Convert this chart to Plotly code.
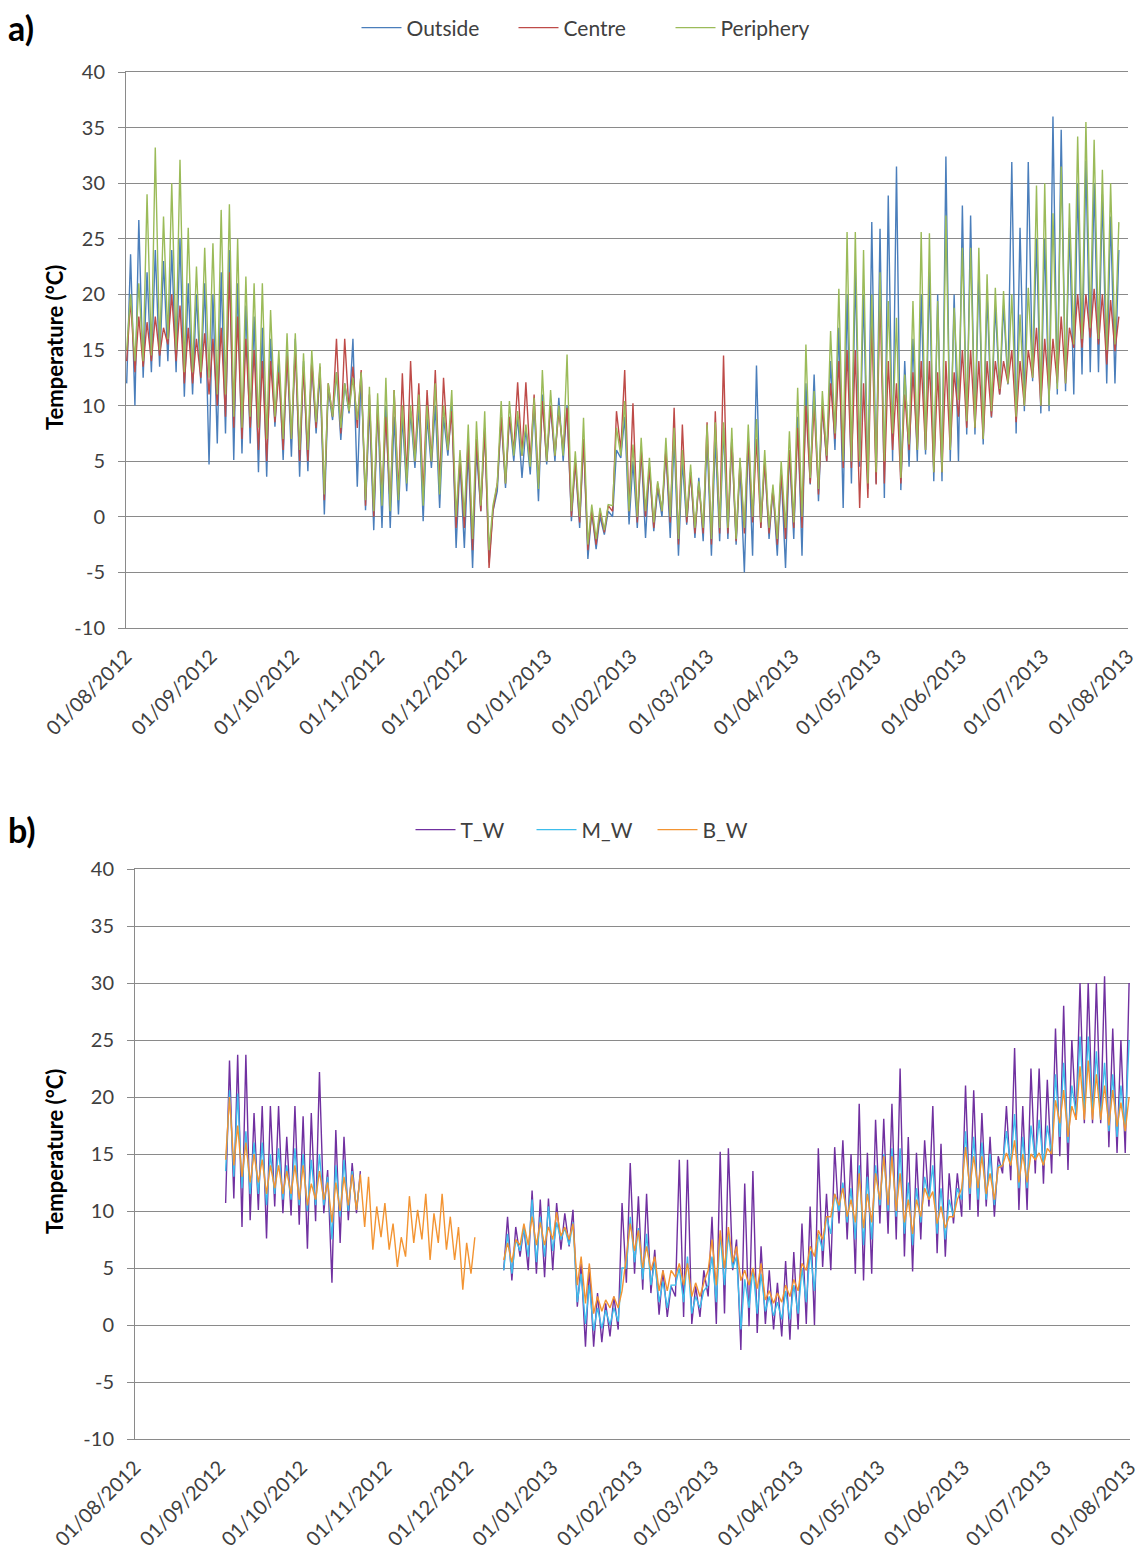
import pandas as pd
import plotly.graph_objects as go

# ---------------- data (3-day blocks from 01/08/2012: daily low / high within each block) -------------
BLOCK_START = "2012-08-01"
N_BLOCKS = 122
month_ticks = pd.date_range("2012-08-01", "2013-08-01", freq="MS")
y_ticks = [-10, -5, 0, 5, 10, 15, 20, 25, 30, 35, 40]

# Panel a)
outside_hi = [
    23.6, 26.7, 22, 24, 23, 24, 25, 21, 20, 21,
    20, 22, 24, 21, 19, 18, 17, 16, 14, 15,
    16, 14, 14, 13, 11.5, 13, 12, 16, 13, 10,
    10, 10, 9, 9, 9.5, 10, 9, 10, 9, 10,
    5, 6, 6, 8, 0.5, 9, 9, 9, 8, 10,
    11, 10, 10.7, 10, 5, 7, 0.5, 0, 0.5, 6,
    9, 5, 6, 4.5, 2.5, 6, 7, 5, 4, 3.5,
    7, 7, 8, 7, 4.5, 7, 13.6, 5, 2.5, 4,
    6, 9, 12, 12.8, 10, 14, 17, 20, 22, 20,
    26.5, 25.9, 28.9, 31.5, 14, 16, 20, 22, 20, 32.4,
    20, 28, 27.1, 22, 20, 19, 19, 31.9, 26, 31.9,
    25, 25, 36, 34.8, 26, 30, 32, 30, 29, 27,
    24, None]
outside_lo = [
    12, 10, 12.5, 13, 13.5, 14, 13, 10.8, 11, 12,
    4.7, 6.6, 7.5, 5.1, 5.7, 6.6, 4, 3.6, 8.1, 5.1,
    5.4, 3.6, 4.1, 7.5, 0.2, 8.7, 6.9, 9.3, 2.7, 0.6,
    -1.2, -1, -1, 0.2, 2.3, 4.4, -0.4, 4.4, 0.8, 5.5,
    -2.8, -2.8, -4.6, 0.5, -4.1, 2.3, 2.6, 5, 3.5, 3.8,
    1.4, 4.7, 5, 5, -0.4, -1, -3.8, -2.9, -1.6, 0,
    5.3, -0.7, -1, -1.9, -1.3, 0, -1.9, -3.5, -0.7, -1.9,
    -2.2, -3.5, -2.2, -2, -2.5, -5, -3.5, -1, -2, -3.5,
    -4.6, -2, -3.5, 2.9, 1.4, 5, 6, 0.8, 3, 4.5,
    2.5, 3, 1.7, 5, 2.4, 4.5, 5, 5.6, 3.2, 3.2,
    5, 5, 7.4, 7.4, 6.5, 8.9, 11, 11.9, 7.5, 9.5,
    12.2, 9.3, 9.5, 11, 11.3, 11, 12.8, 13, 13, 12,
    12, None]
centre_hi = [
    19.5, 18, 17.5, 18, 17, 20, 19, 17, 16, 16.5,
    16, 17, 22, 18, 16, 15, 14, 14, 13, 14.5,
    15, 13.5, 14, 13.5, 12, 16, 16, 13.5, 13.2, 11,
    10, 9, 11.4, 12.9, 14, 12, 11.4, 13.2, 12.5, 9.5,
    5.3, 7, 7, 8, 0.5, 9, 9, 12.1, 12.1, 11,
    10.4, 10, 9.5, 9.8, 5, 7, 0.5, 0.5, 1, 9.5,
    13.2, 10.2, 6, 4.5, 3, 6, 9.8, 8.3, 4, 3,
    8.5, 9.5, 14.5, 7, 5, 7, 7, 5, 2.5, 4,
    6, 8, 10, 10, 10, 12, 14, 15, 15, 12,
    17.6, 20, 14, 12, 11, 13, 14, 14, 13, 14,
    13, 15, 15, 14, 14, 14, 14, 15, 14, 15,
    17, 16, 16, 18, 17, 20, 20, 20.5, 20, 19.5,
    18, None]
centre_lo = [
    14, 13, 13.5, 14, 14.5, 15.5, 14, 12, 12, 12.5,
    11, 10, 9, 8, 7, 8, 6, 5, 8.5, 6,
    7, 5, 5, 8, 1.5, 9, 7.5, 9.5, 8, 1,
    0, 2, 1, 2, 3.5, 5, 2, 5, 3, 6,
    -1, -1, -3, 0.5, -4.6, 3, 3, 6, 5.5, 5,
    3, 5, 5.5, 6, 0, -0.5, -3, -2.5, -1.4, 0.5,
    6, 0.5, -0.5, 0, -1, 0.5, -0.5, -2.5, -0.5, -1.5,
    -1.5, -2.5, -1.5, -1.5, -2.2, -1.5, -0.5, -1, -1.5, -2.5,
    -2, -1, -1, 3, 2, 5, 7, 4.4, 4.4, 0.8,
    1.7, 2.9, 3, 6, 3, 6, 6, 6, 4, 4,
    6, 9, 8, 8, 7, 9, 11, 12, 8.5, 10,
    12.5, 10, 11, 12, 12, 15.2, 15.2, 16.1, 15.5, 13.7,
    14.9, None]
periphery_hi = [
    20, 21, 29, 33.2, 27, 30, 32.1, 26, 22.5, 24.2,
    24.6, 27.6, 28.1, 25, 21.6, 21, 21, 18.6, 15, 16.5,
    16.5, 14.7, 15, 13.8, 12, 13, 12, 12.5, 13, 11.7,
    11.1, 12.5, 11.4, 10, 10, 11, 10, 12, 10, 11.4,
    6, 8.3, 8.6, 9.5, 1, 10.4, 10.4, 9.5, 8.3, 10.7,
    13.2, 11.4, 10, 14.6, 5.9, 8.9, 1.1, 0.8, 1.1, 8,
    10.4, 6.5, 7.1, 5.3, 3.2, 7.1, 8, 6, 4.7, 3.2,
    8.3, 8.5, 8.5, 8, 5.3, 8.3, 8.8, 6, 2.9, 5,
    7.7, 11.6, 15.5, 11.3, 11.3, 16.7, 20.5, 25.6, 25.6, 24,
    20, 22, 19.4, 17.9, 12.8, 19.4, 25.6, 25.5, 19.4, 27.1,
    18.8, 24.2, 24.2, 24.2, 21.8, 20.6, 20.3, 20, 18.2, 20.6,
    29.8, 30, 27.3, 31.5, 28.2, 34.2, 35.5, 33.9, 31.2, 30,
    26.5, None]
periphery_lo = [
    15, 14, 14, 14.5, 15, 16, 15, 13, 13, 13,
    12.5, 11, 11, 9, 8, 9, 8, 7, 9, 7,
    7, 6, 6, 8.5, 2, 9, 8, 9.5, 8.7, 1.5,
    0.5, 1, 0.5, 1.5, 3, 5, 1, 5, 2, 6,
    0, 0, -2, 1, -3, 3, 3, 5.5, 5.5, 4.5,
    2.5, 5, 5.5, 5.5, 0.5, 0, -2.5, -2, -1.2, 1,
    5.5, 0.5, 0, 0.5, -0.5, 0.5, 0, -2, 0, -1,
    -1, -2, -1, -1, -2, -1, 0, -0.5, -1, -2,
    -1, -0.5, 0, 3.5, 2.5, 5.5, 7.5, 5, 5, 5,
    3, 4, 5, 7.5, 3.5, 6.5, 6, 6, 4, 4,
    6, 10.5, 8.6, 8, 7, 9.5, 11.5, 12, 9, 10,
    12.5, 10, 10, 11.5, 12, 15.5, 16, 17, 16, 15,
    15.5, None]

# Panel b)  (None = no record)
tw_hi = [None] * 11 + [
    23.2, 23.7, 23.7, 18.6, 19.2, 19.2, 19.2, 16.5, 19.2, 18.3,
    18.6, 22.2, 13.6, 17.1, 16.5, 14.2, 13.5] + [None] * 17 + [
    9.5, 8.6, 8.6, 11.8, 11, 11.1, 10.7, 9.8, 10.1, 5.4,
    5.1, 2.8, 1.9, 2.5, 10.7, 14.2, 11.3, 11.5, 6.6, 4.8,
    3.4, 14.5, 14.5, 3.4, 4.8, 9.5, 15.2, 15.5, 7.5, 12.4,
    13.5, 6.9, 4.8, 3.7, 5.6, 6.4, 8.9, 10.4, 15.5, 11.5,
    15.6, 16.2, 15, 19.4, 15.1, 18, 18.1, 19.4, 22.5, 16.5,
    15.1, 16.2, 19.2, 15.9, 13.3, 13.3, 21, 20.6, 18.6, 16.5,
    14.8, 19.2, 24.3, 19.2, 22.5, 22.5, 21.5, 26, 28, 25,
    30, 30, 30, 30.6, 26, 25, 30]
tw_lo = [None] * 11 + [
    10.7, 11.1, 8.6, 9.2, 10.1, 7.6, 10.4, 9.8, 9.6, 8.8,
    6.7, 9.1, 9.8, 3.7, 7.2, 9.2, 9.8] + [None] * 17 + [
    4.8, 3.9, 6, 4.8, 4.5, 4.2, 4.8, 6.6, 6.9, 1.6,
    -1.9, -1.9, -1.5, -1, -0.4, 3.7, 4.5, 3.1, 2.8, 0.9,
    0.7, 2.5, 0.7, 0.1, 0.7, 2.5, 0.1, 1, 4.8, -2.2,
    -0.1, -0.7, 0.1, -0.4, -1, -1.3, -0.4, 0.1, 0, 5.1,
    4.8, 8.9, 7.5, 4.5, 3.9, 4.5, 8.9, 8, 7.5, 6,
    4.7, 7.5, 10.4, 6.3, 6, 8.9, 9.5, 10.1, 9.5, 10.4,
    9.5, 13.3, 12.7, 10.1, 10.1, 13.3, 12.4, 13.3, 14.8, 13.6,
    18, 17.7, 17.7, 17.7, 15.6, 15.1, 15.1]
mw_hi = [None] * 11 + [
    20.6, 20.3, 17, 16, 16, 15, 15.5, 14, 15.5, 15,
    14.5, 15, 13, 14, 14.5, 13.5, 13] + [None] * 17 + [
    8, 7.5, 8.5, 11, 9.5, 10.4, 9, 8.5, 9, 4.5,
    3.5, 1.5, 1.3, 1.5, 5, 9.5, 8.5, 8, 5.5, 3.8,
    3.5, 5, 6, 2.5, 3, 6, 8, 8, 6, 4,
    5, 4.5, 2.5, 2, 3, 3.5, 5, 6.5, 8, 9.5,
    11.5, 12.5, 12, 14, 13, 14, 15, 15.5, 15.5, 12.5,
    12, 13, 14, 12, 11, 12, 17, 16.5, 16, 15,
    14, 17, 18.5, 16.5, 17.5, 18, 17.5, 22, 23, 21,
    25.3, 25.3, 24, 23, 22, 21, 25]
mw_lo = [None] * 11 + [
    13.5, 13, 12, 11.5, 11.5, 10.5, 11.5, 11, 11, 10.5,
    10, 10.5, 10.5, 7.5, 9.5, 10, 10.2] + [None] * 17 + [
    4.8, 4.5, 6.5, 6, 5.5, 6, 6.5, 7.5, 7, 2,
    0.1, -0.5, -0.3, 0, 0.3, 5, 5.5, 4, 3.5, 2,
    1.5, 3.5, 2, 1, 1.5, 3.5, 2, 3.5, 5, -0.4,
    1.5, 1, 1.2, 0.8, 0.5, 0.5, 1, 2, 3, 6.5,
    8, 10, 9, 7.5, 7, 7.5, 10.5, 10, 9.5, 8,
    7, 9, 11, 8, 7.5, 9.5, 11, 11.5, 11, 11,
    10.5, 14, 14, 12, 12, 14.5, 14, 15, 16.5, 16,
    18.5, 18.5, 18.5, 18, 17, 16.5, 17]
bw_hi = [None] * 11 + [
    20, 17.5, 16, 15, 14.5, 14, 14, 13.5, 14, 14,
    12.4, 13.5, 12.5, 12.5, 13, 13.2, 13.2, 13, 10.4, 10.7,
    8.9, 7.7, 11.3, 10.1, 11.5, 9.8, 11.5, 9.5, 8.6, 7.2, 7.7] + [None] * 3 + [
    7.2, 7.5, 8.9, 9.5, 9, 8.6, 9.9, 8.6, 8.9, 6,
    5.4, 2.5, 2.2, 2.5, 3, 8.9, 8.3, 6.9, 6, 4.8,
    4.8, 5.4, 5.4, 3.7, 3.7, 7.5, 8.3, 8.6, 6.9, 4.8,
    5, 5.4, 3, 2.8, 3.5, 4, 5.4, 6.9, 8.3, 9.5,
    11.5, 12, 11, 13.3, 11.5, 13.3, 14.8, 14.8, 13.3, 11,
    11, 12, 11.7, 10.4, 9.5, 11, 15.6, 14.8, 14.8, 13.3,
    13.8, 15.1, 16.2, 15, 15, 15.1, 15.5, 19.7, 20.6, 19.2,
    22.7, 23.2, 22, 21, 20.6, 19.5, 20]
bw_lo = [None] * 11 + [
    14.5, 14, 13, 12.5, 12.5, 11.5, 12, 11.5, 11.5, 11,
    10.5, 11, 11, 9, 10, 10.5, 10.1, 8.6, 6.6, 7.7,
    6.6, 5.1, 6, 7.2, 7.5, 5.7, 7.2, 6.6, 5.7, 3.1, 4.5] + [None] * 3 + [
    5.7, 5.5, 7, 7, 7, 7, 7.5, 7.8, 7.5, 3.5,
    1.9, 1, 1.2, 1.5, 1.5, 6, 6.5, 5, 4.8, 3,
    3, 4.2, 3.5, 2.5, 2.5, 4.8, 3.5, 5, 5.5, 3.9,
    3.5, 3.2, 2.2, 1.9, 2, 2.5, 3, 4.8, 6, 7.5,
    9.5, 10.5, 9.5, 9, 8.5, 9, 11, 10.5, 10, 9,
    8, 9.5, 11, 8.9, 8.5, 9.5, 12, 12, 12, 11.5,
    11, 14, 14, 12.5, 12.5, 14.5, 14, 15, 17.7, 16.5,
    18, 18, 18, 18, 17.5, 17.4, 17]

for arr in (outside_hi, outside_lo, centre_hi, centre_lo, periphery_hi, periphery_lo,
            tw_hi, tw_lo, mw_hi, mw_lo, bw_hi, bw_lo):
    assert len(arr) == N_BLOCKS, len(arr)

# ---------------- figure ----------------
W, H = 1144, 1557
GRID = "#8a8a8a"
TXT = "#404040"
FONT = "Lato, 'Open Sans', sans-serif"
YR = [y_ticks[0], y_ticks[-1]]

starts = pd.date_range(BLOCK_START, periods=N_BLOCKS, freq="3D")
LOW_T = pd.Timedelta(hours=6)
HIGH_T = pd.Timedelta(hours=40)


def zigzag(hi, lo):
    xs, ys = [], []
    for s, h, l in zip(starts, hi, lo):
        if h is None or l is None:
            xs.append(s)
            ys.append(None)
        else:
            xs += [s + LOW_T, s + HIGH_T]
            ys += [l, h]
    return xs, ys


dom_a_x = [126 / W, 1128 / W]
dom_a_y = [1 - 628 / H, 1 - 72 / H]
dom_b_x = [135 / W, 1130 / W]
dom_b_y = [1 - 1439 / H, 1 - 869 / H]


def zero_pos(dom):
    return dom[0] + (0 - YR[0]) / (YR[1] - YR[0]) * (dom[1] - dom[0])


fig = go.Figure()
panel_a = [("Outside", "#4A7EBB", outside_hi, outside_lo),
           ("Centre", "#BE4B48", centre_hi, centre_lo),
           ("Periphery", "#9BBB59", periphery_hi, periphery_lo)]
panel_b = [("T_W", "#7030A0", tw_hi, tw_lo),
           ("M_W", "#3DBDEB", mw_hi, mw_lo),
           ("B_W", "#F39432", bw_hi, bw_lo)]

for name, col, hi, lo in panel_a:
    xs, ys = zigzag(hi, lo)
    fig.add_trace(go.Scatter(x=xs, y=ys, mode="lines", name=name,
                             line=dict(color=col, width=1.4),
                             xaxis="x", yaxis="y", legend="legend"))
for name, col, hi, lo in panel_b:
    xs, ys = zigzag(hi, lo)
    fig.add_trace(go.Scatter(x=xs, y=ys, mode="lines", name=name,
                             line=dict(color=col, width=1.4),
                             xaxis="x2", yaxis="y2", legend="legend2"))

tickfont = dict(size=20, color=TXT, family=FONT)
xtickfont = dict(size=20, color=TXT, family=FONT)
xr = [month_ticks[0], month_ticks[-1]]


def xbottom(dom, anchor):
    return dict(type="date", domain=dom, anchor=anchor, range=xr, tickvals=list(month_ticks),
                tickformat="%d/%m/%Y", tickangle=-45, ticks="", showgrid=False, zeroline=False,
                showline=True, mirror=True, linecolor=GRID, linewidth=1, tickfont=xtickfont,
                ticklabelstandoff=8, automargin=False)


def xzero(over, ydom):
    return dict(type="date", overlaying=over, anchor="free", position=zero_pos(ydom), range=xr,
                tickvals=list(month_ticks), showticklabels=False, ticks="outside", ticklen=9,
                tickcolor=GRID, tickwidth=1, showgrid=False, zeroline=False, showline=False,
                automargin=False)


def yax(dom, anchor):
    return dict(domain=dom, anchor=anchor, range=YR, tickvals=y_ticks,
                ticktext=[str(v) for v in y_ticks], showgrid=True,
                gridcolor=GRID, gridwidth=1, showline=True, linecolor=GRID, linewidth=1,
                ticks="outside", ticklen=7, tickcolor=GRID, tickfont=tickfont, zeroline=False,
                ticklabelstandoff=9, automargin=False)


def legend_at(ypx, entry_w):
    return dict(orientation="h", x=592 / W, xanchor="center", y=1 - ypx / H, yanchor="middle",
                font=dict(size=21, color=TXT, family=FONT), bgcolor="rgba(0,0,0,0)",
                itemwidth=40, tracegroupgap=0, entrywidth=entry_w, entrywidthmode="pixels")


fig.update_layout(
    width=W, height=H, autosize=False,
    margin=dict(l=0, r=0, t=0, b=0, autoexpand=False),
    paper_bgcolor="white", plot_bgcolor="white",
    font=dict(family=FONT, color=TXT),
    xaxis=xbottom(dom_a_x, "y"),
    yaxis=yax(dom_a_y, "x"),
    xaxis2=xbottom(dom_b_x, "y2"),
    yaxis2=yax(dom_b_y, "x2"),
    xaxis3=xzero("x", dom_a_y),
    xaxis4=xzero("x2", dom_b_y),
    legend=legend_at(28, 102),
    legend2=legend_at(830, 66),
    showlegend=True,
    annotations=[
        dict(text="<b>a)</b>", x=6 / W, y=1 - 27 / H, xref="paper", yref="paper",
             xanchor="left", yanchor="middle", showarrow=False,
             font=dict(size=34, color="black", family=FONT)),
        dict(text="<b>b)</b>", x=6 / W, y=1 - 829 / H, xref="paper", yref="paper",
             xanchor="left", yanchor="middle", showarrow=False,
             font=dict(size=34, color="black", family=FONT)),
        dict(text="<b>Temperature (°C)</b>", x=54 / W, y=1 - 348 / H, xref="paper", yref="paper",
             xanchor="center", yanchor="middle", textangle=-90, showarrow=False,
             font=dict(size=22, color="black", family=FONT)),
        dict(text="<b>Temperature (°C)</b>", x=54 / W, y=1 - 1152 / H, xref="paper", yref="paper",
             xanchor="center", yanchor="middle", textangle=-90, showarrow=False,
             font=dict(size=22, color="black", family=FONT)),
    ],
)

fig.write_html("out.html")
